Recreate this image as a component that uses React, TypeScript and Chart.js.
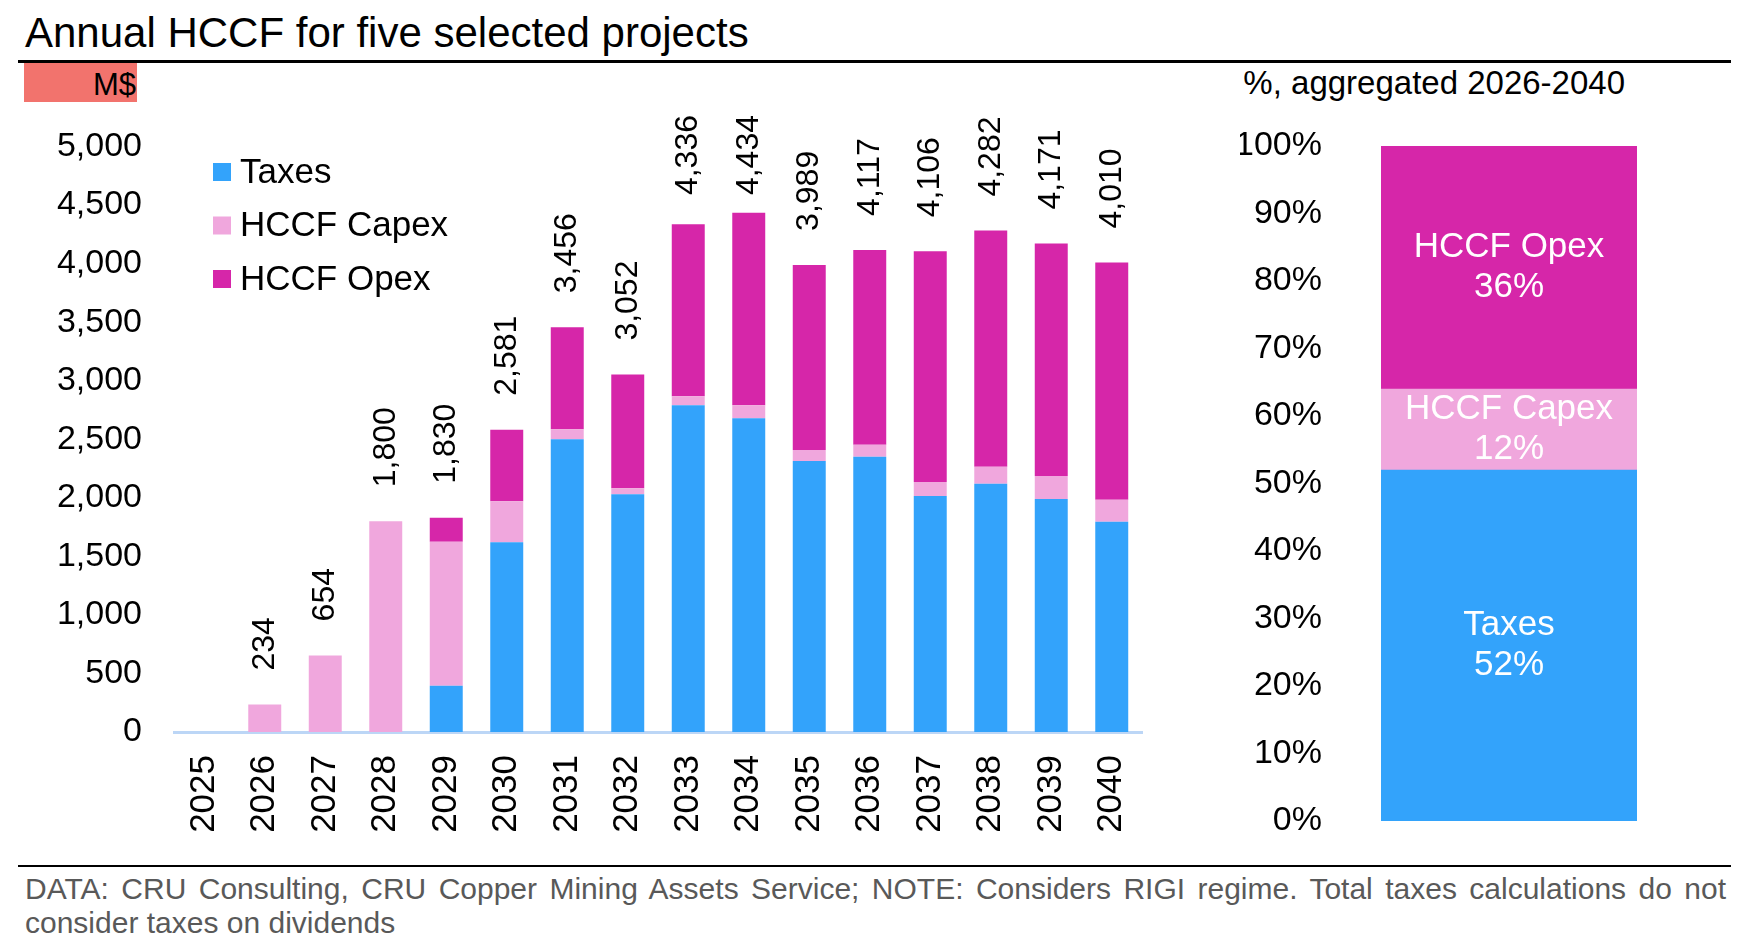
import React, { useEffect, useRef } from 'react';
import { Chart, registerables } from 'chart.js';

Chart.register(...registerables);

const FONT = '"Liberation Sans", Arial, Helvetica, sans-serif';

// ---------- data ----------
const years = ['2025', '2026', '2027', '2028', '2029', '2030', '2031', '2032', '2033', '2034', '2035', '2036', '2037', '2038', '2039', '2040'];
const taxes = [0, 0, 0, 0, 395, 1620, 2500, 2030, 2790, 2680, 2315, 2350, 2015, 2120, 1990, 1795];
const capex = [0, 234, 654, 1800, 1230, 350, 86, 52, 77, 111, 94, 103, 120, 145, 196, 188];
const opex = [0, 0, 0, 0, 205, 611, 870, 970, 1469, 1643, 1580, 1664, 1971, 2017, 1985, 2027];
const totals = [0, 234, 654, 1800, 1830, 2581, 3456, 3052, 4336, 4434, 3989, 4117, 4106, 4282, 4171, 4010];
const seriesNames = ['Taxes', 'HCCF Capex', 'HCCF Opex'];
const seriesColors = ['#33A3FB', '#F0A7DD', '#D626A9'];
const shareCategory = ['2026-2040'];
const shareValues = [52, 12, 36];
const leftAxisMax = 5000;
const leftAxisStep = 500;
const rightAxisMax = 100;
const rightAxisStep = 10;

const titleText = 'Annual HCCF for five selected projects';
const leftUnit = 'M$';
const rightUnit = '%, aggregated 2026-2040';
const footerText =
  'DATA: CRU Consulting, CRU Copper Mining Assets Service; NOTE: Considers RIGI regime. Total taxes calculations do not consider taxes on dividends';

const fmt = (v: number) => Number(v).toLocaleString('en-US');

// ---------- plugins ----------
const totalLabelsPlugin = {
  id: 'totalLabels',
  afterDatasetsDraw(chart: any) {
    const { ctx, scales } = chart;
    const xs = scales.x;
    const ys = scales.y;
    ctx.save();
    ctx.font = `32px ${FONT}`;
    ctx.fillStyle = '#000';
    ctx.textAlign = 'left';
    ctx.textBaseline = 'middle';
    totals.forEach((t, i) => {
      if (!t) return;
      const label = fmt(t);
      const w = ctx.measureText(label).width;
      let anchor = ys.getPixelForValue(t) - 34;
      if (anchor - w < 15) anchor = 15 + w;
      ctx.save();
      ctx.translate(xs.getPixelForValue(i), anchor);
      ctx.rotate(-Math.PI / 2);
      ctx.fillText(label, 0, 0);
      ctx.restore();
    });
    ctx.restore();
  },
};

const inlineLegendPlugin = {
  id: 'inlineLegend',
  afterDraw(chart: any) {
    const { ctx } = chart;
    ctx.save();
    ctx.font = `35px ${FONT}`;
    ctx.textAlign = 'left';
    ctx.textBaseline = 'middle';
    chart.data.datasets.forEach((ds: any, i: number) => {
      const cy = 72 + i * 53.5;
      ctx.fillStyle = ds.backgroundColor;
      ctx.fillRect(188, cy - 9, 18, 18);
      ctx.fillStyle = '#000';
      ctx.fillText(ds.label, 215, cy + 1);
    });
    ctx.restore();
  },
};

const shareLabelsPlugin = {
  id: 'shareLabels',
  afterDatasetsDraw(chart: any) {
    const { ctx } = chart;
    ctx.save();
    ctx.font = `35px ${FONT}`;
    ctx.fillStyle = '#fff';
    ctx.textAlign = 'center';
    ctx.textBaseline = 'middle';
    chart.data.datasets.forEach((ds: any, i: number) => {
      const el = chart.getDatasetMeta(i).data[0];
      if (!el) return;
      const cx = el.x;
      const cy = (el.y + el.base) / 2;
      ctx.fillText(ds.label, cx, cy - 20);
      ctx.fillText(`${ds.data[0]}%`, cx, cy + 20);
    });
    ctx.restore();
  },
};

// ---------- component ----------
export default function App() {
  const leftRef = useRef<HTMLCanvasElement | null>(null);
  const rightRef = useRef<HTMLCanvasElement | null>(null);

  useEffect(() => {
    Chart.defaults.font.family = FONT;
    Chart.defaults.color = '#000';
    const seriesData = [taxes, capex, opex];

    const left = new Chart(leftRef.current as HTMLCanvasElement, {
      type: 'bar',
      data: {
        labels: years,
        datasets: seriesData.map((d, i) => ({
          label: seriesNames[i],
          data: d,
          backgroundColor: seriesColors[i],
          borderWidth: 0,
          barPercentage: 0.545,
          categoryPercentage: 1,
        })),
      },
      options: {
        responsive: false,
        animation: false,
        layout: { padding: { top: 46.5, right: 33, bottom: 0, left: 0 } },
        plugins: { legend: { display: false }, tooltip: { enabled: false } },
        scales: {
          x: {
            stacked: true,
            grid: { display: false, drawTicks: false },
            border: { display: true, color: '#BCD6F6', width: 3 },
            ticks: {
              autoSkip: false,
              minRotation: 90,
              maxRotation: 90,
              padding: 23,
              color: '#000',
              font: { size: 35, family: FONT },
            },
            afterFit: (s: any) => {
              s.height = 128;
              s.paddingLeft = 0;
              s.paddingRight = 0;
            },
          },
          y: {
            stacked: true,
            min: 0,
            max: leftAxisMax,
            grid: { display: false, drawTicks: false },
            border: { display: false },
            ticks: {
              stepSize: leftAxisStep,
              padding: 32,
              color: '#000',
              font: { size: 34, family: FONT },
              callback: (v: any) => fmt(v),
            },
            afterFit: (s: any) => {
              s.width = 149;
              s.paddingTop = 0;
              s.paddingBottom = 0;
            },
          },
        },
      } as any,
      plugins: [totalLabelsPlugin, inlineLegendPlugin],
    });

    const right = new Chart(rightRef.current as HTMLCanvasElement, {
      type: 'bar',
      data: {
        labels: shareCategory,
        datasets: shareValues.map((v, i) => ({
          label: seriesNames[i],
          data: [v],
          backgroundColor: seriesColors[i],
          borderWidth: 0,
          barPercentage: 1,
          categoryPercentage: 1,
        })),
      },
      options: {
        responsive: false,
        animation: false,
        layout: { padding: { top: 46, right: 83, bottom: 39, left: 0 } },
        plugins: { legend: { display: false }, tooltip: { enabled: false } },
        scales: {
          x: { display: false, stacked: true },
          y: {
            stacked: true,
            min: 0,
            max: rightAxisMax,
            grid: { display: false, drawTicks: false },
            border: { display: false },
            ticks: {
              stepSize: rightAxisStep,
              padding: 59,
              color: '#000',
              font: { size: 34, family: FONT },
              callback: (v: any) => `${v}%`,
            },
            afterFit: (s: any) => {
              s.width = 141;
              s.paddingTop = 0;
              s.paddingBottom = 0;
            },
          },
        },
      } as any,
      plugins: [shareLabelsPlugin],
    });

    return () => {
      left.destroy();
      right.destroy();
    };
  }, []);

  const abs = (o: React.CSSProperties): React.CSSProperties => ({ position: 'absolute', margin: 0, ...o });

  return (
    <div
      style={{
        position: 'absolute',
        left: 0,
        top: 0,
        width: 1758,
        height: 952,
        overflow: 'hidden',
        background: '#fff',
        fontFamily: FONT,
        color: '#000',
      }}
    >
      <div style={abs({ left: 25, top: 12.4, fontSize: 42, lineHeight: '42px', whiteSpace: 'nowrap' })}>{titleText}</div>
      <div style={abs({ left: 18, top: 59.5, width: 1713, height: 3, background: '#000' })} />
      <div style={abs({ left: 24, top: 63, width: 113, height: 39, background: '#F2736D' })} />
      <div
        style={abs({ left: 24, top: 68.8, width: 112, fontSize: 31, lineHeight: '31px', textAlign: 'right', whiteSpace: 'nowrap' })}
      >
        {leftUnit}
      </div>
      <div
        style={abs({ left: 1150, top: 66, width: 475, fontSize: 33, lineHeight: '33px', textAlign: 'right', whiteSpace: 'nowrap' })}
      >
        {rightUnit}
      </div>
      <canvas ref={leftRef} width={1150} height={760} style={abs({ left: 25, top: 100, width: 1150, height: 760, display: 'block' })} />
      <canvas ref={rightRef} width={480} height={760} style={abs({ left: 1240, top: 100, width: 480, height: 760, display: 'block' })} />
      <div style={abs({ left: 18, top: 865, width: 1713, height: 2, background: '#000' })} />
      <div
        style={abs({
          left: 25,
          top: 871.6,
          width: 1701,
          fontSize: 30,
          lineHeight: '34px',
          color: '#595959',
          textAlign: 'justify',
        })}
      >
        {footerText}
      </div>
    </div>
  );
}
